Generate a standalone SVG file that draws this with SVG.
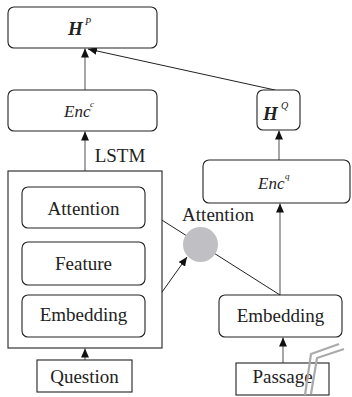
<svg xmlns="http://www.w3.org/2000/svg" width="352" height="397" viewBox="0 0 352 397">
  <style>
    text { font-family: 'Liberation Serif', 'Times New Roman', 'DejaVu Serif', serif; }
    .box { fill: #fff; stroke: #222; stroke-width: 1.1; }
    .lbl { font-size: 19px; fill: #222; text-anchor: middle; }
    .math { font-style: italic; fill: #222; }
    .vlink { stroke: #777; stroke-width: 1.3; fill: none; }
    .slink { stroke: #222; stroke-width: 1; fill: none; }
    .deco { stroke: #aaa; stroke-width: 2.2; fill: none; }
  </style>
  <defs>
    <marker id="arrow" markerUnits="userSpaceOnUse" markerWidth="10" markerHeight="8" refX="9" refY="4" orient="auto">
      <path d="M0,0 L9,4 L0,8 z" fill="#111"/>
    </marker>
  </defs>

  <!-- connectors -->
  <g id="connectors">
    <line class="vlink" x1="85" y1="90" x2="85" y2="48.5" marker-end="url(#arrow)"/>
    <line class="vlink" x1="85" y1="171" x2="85" y2="131.5" marker-end="url(#arrow)"/>
    <line class="vlink" x1="85" y1="360" x2="85" y2="348.5" marker-end="url(#arrow)"/>
    <line class="vlink" x1="279" y1="160" x2="279" y2="130.5" marker-end="url(#arrow)"/>
    <line class="vlink" x1="280" y1="295" x2="280" y2="203.5" marker-end="url(#arrow)"/>
    <line class="vlink" x1="283" y1="363" x2="283" y2="337.5" marker-end="url(#arrow)"/>
    <line class="slink" x1="275" y1="90" x2="88" y2="49" marker-end="url(#arrow)"/>
    <line class="slink" x1="280" y1="295" x2="146" y2="210" marker-end="url(#arrow)"/>
    <line class="slink" x1="145" y1="316" x2="187" y2="257" marker-end="url(#arrow)"/>
  </g>

  <!-- passage-side output -->
  <g id="hp">
    <rect class="box" x="8" y="7" width="149" height="41" rx="6"/>
    <text class="math" x="68" y="35" font-size="19" font-weight="bold">H</text>
    <text class="math" x="85" y="25" font-size="10">P</text>
  </g>

  <g id="encc">
    <rect class="box" x="8" y="90" width="149" height="41" rx="6"/>
    <text class="math" x="64" y="117" font-size="17">Enc</text>
    <text class="math" x="90" y="107" font-size="9">c</text>
  </g>

  <g id="lstm">
    <rect class="box" x="8" y="171" width="154" height="177" rx="0"/>
    <text class="lbl" x="120" y="162">LSTM</text>
  </g>

  <g id="attention">
    <rect class="box" x="22" y="187" width="123" height="41" rx="6"/>
    <text class="lbl" x="83.5" y="215">Attention</text>
  </g>

  <g id="feature">
    <rect class="box" x="22" y="242" width="123" height="43" rx="6"/>
    <text class="lbl" x="83.5" y="270">Feature</text>
  </g>

  <g id="embedding-q">
    <rect class="box" x="22" y="295" width="123" height="42" rx="6"/>
    <text class="lbl" x="83.5" y="321">Embedding</text>
  </g>

  <g id="question">
    <rect class="box" x="37" y="360" width="95" height="32"/>
    <text class="lbl" x="84.5" y="383">Question</text>
  </g>

  <g id="hq">
    <rect class="box" x="257" y="90" width="43" height="40" rx="6"/>
    <text class="math" x="263" y="120" font-size="19" font-weight="bold">H</text>
    <text class="math" x="281" y="109" font-size="10">Q</text>
  </g>

  <g id="encq">
    <rect class="box" x="203" y="160" width="147" height="43" rx="6"/>
    <text class="math" x="258" y="189" font-size="17">Enc</text>
    <text class="math" x="285" y="179" font-size="9">q</text>
  </g>

  <g id="attn-op">
    <circle cx="200.5" cy="244.5" r="17.5" fill="#c0c0c4"/>
    <text class="lbl" x="218" y="221">Attention</text>
  </g>

  <g id="embedding-p">
    <rect class="box" x="219" y="295" width="123" height="42" rx="6"/>
    <text class="lbl" x="280.5" y="322">Embedding</text>
  </g>

  <g id="passage">
    <rect class="box" x="236" y="363" width="93" height="32"/>
    <text class="lbl" x="282.5" y="383">Passage</text>
    <polyline class="deco" points="305,395 311,354 339,344"/>
    <polyline class="deco" points="311,394 317,358 344,349"/>
  </g>
</svg>
